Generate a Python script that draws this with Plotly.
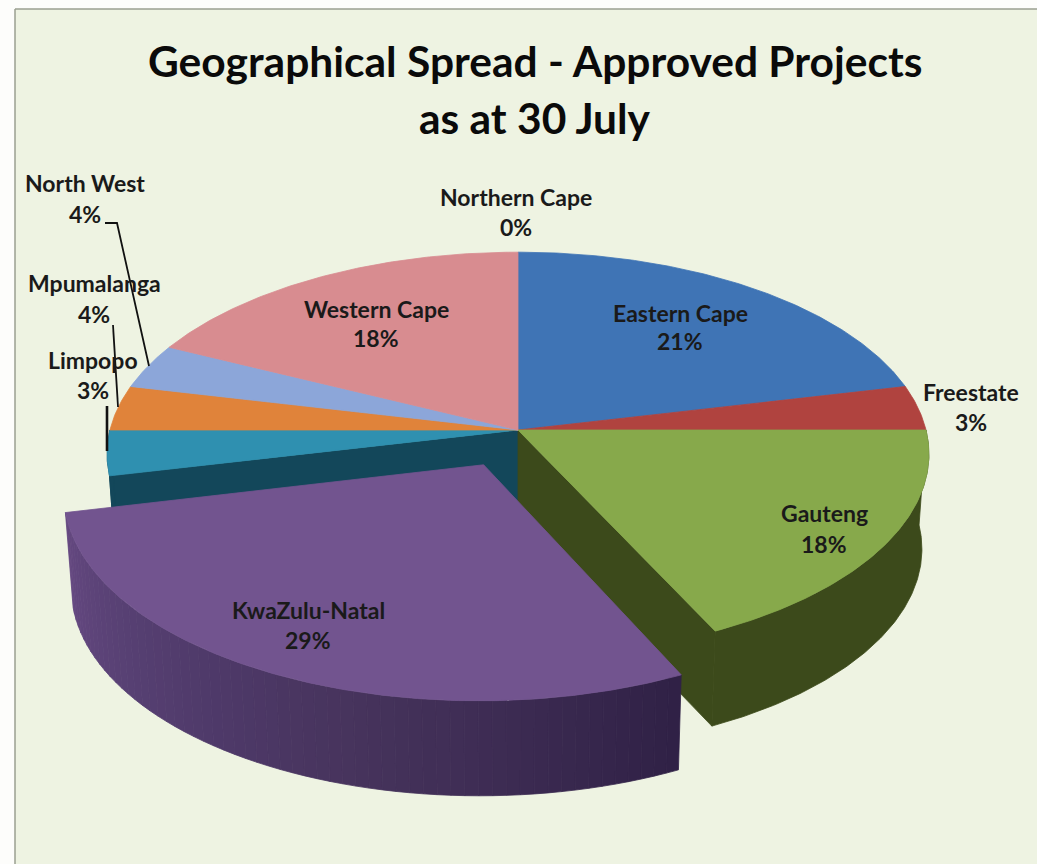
import numpy as np
import plotly.graph_objects as go

# ---- data ----
provinces = ["Eastern Cape", "Freestate", "Gauteng", "KwaZulu-Natal", "Limpopo",
             "Mpumalanga", "North West", "Northern Cape", "Western Cape"]
shares = [21.4, 3.6, 17.9, 28.5, 3.6, 3.6, 3.6, 0.0, 17.8]
# percentages as printed on the labels
printed_pct = ["21%", "3%", "18%", "29%", "3%", "4%", "4%", "0%", "18%"]

top_colors = ["#3f74b5", "#b0433f", "#87a94b", "#72548f", "#2f90b0",
              "#e0833a", "#8ca6d9", "#8ca6d9", "#d88c90"]
wall_colors = {"Gauteng": "#3c4a1b", "Limpopo": "#13475a"}
kzn_wall_stops = [(0x66, 0x49, 0x82), (0x5a, 0x42, 0x76), (0x4f, 0x3a, 0x6a),
                  (0x47, 0x34, 0x5d), (0x3c, 0x2b, 0x52), (0x30, 0x21, 0x46)]

title_lines = ["Geographical Spread - Approved Projects", "as at 30 July"]

label_x = [680, 971, 824, 308, 93, 94, 85, 516, 376]
name_y = [313, 392, 513, 610, 360, 283, 183, 197, 309]
pct_y = [341, 422, 544, 640, 390, 314, 214, 227, 338]

# ---- pie geometry (perspective view of a tilted disc) ----
CX, CY = 518.0, 430.0
RX, RY = 408.0, 199.0
PERSP = 0.119
DEPTH = 95.0
BOTTOM_SCALE = 0.983
EXPLODE = {"KwaZulu-Natal": 0.19}
WALL_SEGMENTS = 60


def project(t_deg, radius=1.0, bottom=False, off=(0.0, 0.0)):
    t = np.radians(np.asarray(t_deg, dtype=float))
    u = radius * np.sin(t) + off[0]
    v = -radius * np.cos(t) + off[1]
    w = 1 - PERSP * v
    X = RX * u / w
    Y = RY * v / w
    if bottom:
        return CX + BOTTOM_SCALE * X, CY + Y + DEPTH
    return CX + X, CY + Y


cum = np.concatenate([[0], np.cumsum(shares)]) * 3.6
spans = {p: (cum[i], cum[i + 1]) for i, p in enumerate(provinces)}


def offset_for(p):
    e = EXPLODE.get(p, 0.0)
    a, b = spans[p]
    m = np.radians((a + b) / 2)
    return (e * np.sin(m), -e * np.cos(m))


def arc(a, b):
    return np.linspace(a, b, max(2, int(abs(b - a) * 2) + 1))


fig = go.Figure()


def poly(xs, ys, color, name):
    fig.add_trace(go.Scatter(
        x=np.asarray(xs), y=np.asarray(ys), mode="lines", fill="toself",
        fillcolor=color, line=dict(color=color, width=0.8),
        hoverinfo="text", text=name, showlegend=False))


def cut_wall(p, angle):
    off = offset_for(p)
    x0, y0 = project(0, 0, off=off)
    x1, y1 = project(angle, off=off)
    x2, y2 = project(angle, bottom=True, off=off)
    x3, y3 = project(0, 0, bottom=True, off=off)
    poly([x0, x1, x2, x3, x0], [y0, y1, y2, y3, y0], wall_colors[p], p)


def outer_wall(p, color=None, a=None, b=None):
    off = offset_for(p)
    a = spans[p][0] if a is None else a
    b = spans[p][1] if b is None else b
    ts = arc(a, b)
    xt, yt = project(ts, off=off)
    xb, yb = project(ts, bottom=True, off=off)
    poly(np.r_[xt, xb[::-1], xt[0]], np.r_[yt, yb[::-1], yt[0]],
         color or wall_colors[p], p)


def top_face(i):
    p = provinces[i]
    a, b = spans[p]
    if b - a <= 0:
        return
    off = offset_for(p)
    x0, y0 = project(0, 0, off=off)
    xs, ys = project(arc(a, b), off=off)
    poly(np.r_[x0, xs, x0], np.r_[y0, ys, y0], top_colors[i], p)


# walls, back to front
cut_wall("Limpopo", spans["Limpopo"][0])
outer_wall("Limpopo")
cut_wall("Gauteng", spans["Gauteng"][1])
outer_wall("Gauteng")

# top faces of the slices that stay in place
for i, p in enumerate(provinces):
    if p != "KwaZulu-Natal":
        top_face(i)

# exploded slice: smoothly shaded wall, then its top
kzn_a, kzn_b = spans["KwaZulu-Natal"]
edges = np.linspace(kzn_b, kzn_a, WALL_SEGMENTS + 1)
stop_pos = np.linspace(0, 1, len(kzn_wall_stops))
for k in range(WALL_SEGMENTS):
    f = (k + 0.5) / WALL_SEGMENTS
    rgb = [int(np.interp(f, stop_pos, [s[c] for s in kzn_wall_stops])) for c in range(3)]
    outer_wall("KwaZulu-Natal", f"rgb({rgb[0]},{rgb[1]},{rgb[2]})", edges[k + 1], edges[k])
top_face(provinces.index("KwaZulu-Natal"))

# ---- text ----
LABEL_FONT = "Lato, 'Liberation Sans', sans-serif"
annotations = []
for i, p in enumerate(provinces):
    for txt, y in ((p, name_y[i]), (printed_pct[i], pct_y[i])):
        annotations.append(dict(
            x=label_x[i], y=y, xref="x", yref="y", text=f"<b>{txt}</b>", showarrow=False,
            xanchor="center", yanchor="middle",
            font=dict(family=LABEL_FONT, size=23, color="#1a1a1a")))
for txt, y in zip(title_lines, [60, 117]):
    annotations.append(dict(
        x=535, y=y, xref="x", yref="y", text=f"<b>{txt}</b>", showarrow=False,
        xanchor="center", yanchor="middle",
        font=dict(family=LABEL_FONT, size=42.5, color="#0a0a0a")))

# ---- panel and leader lines ----
PANEL = "#eef3e2"
EDGE = "#9a9f90"
shapes = [
    dict(type="rect", layer="below", xref="x", yref="y", x0=15, y0=9, x1=1037, y1=864,
         fillcolor=PANEL, line=dict(width=0)),
    dict(type="line", layer="below", xref="x", yref="y", x0=15, y0=9, x1=1037, y1=9,
         line=dict(color=EDGE, width=1.5)),
    dict(type="line", layer="below", xref="x", yref="y", x0=15, y0=9, x1=15, y1=864,
         line=dict(color=EDGE, width=1.5)),
    dict(type="path", layer="above", xref="x", yref="y",
         path="M105,223 L117,223 L149,366", line=dict(color="#111", width=1.8)),
    dict(type="line", layer="above", xref="x", yref="y", x0=113, y0=325, x1=118, y1=407,
         line=dict(color="#111", width=1.8)),
    dict(type="line", layer="above", xref="x", yref="y", x0=107, y0=406, x1=107, y1=451,
         line=dict(color="#111", width=2.6)),
]

fig.update_layout(
    width=1037, height=864, autosize=False,
    margin=dict(l=0, r=0, t=0, b=0),
    paper_bgcolor="#fdfdfb", plot_bgcolor="rgba(0,0,0,0)",
    xaxis=dict(range=[0, 1037], visible=False, fixedrange=True),
    yaxis=dict(range=[864, 0], visible=False, fixedrange=True),
    showlegend=False, annotations=annotations, shapes=shapes,
)

fig.write_html("out.html", config={"displayModeBar": False},
               post_script="document.body.style.margin='0';document.body.style.overflow='hidden';")
